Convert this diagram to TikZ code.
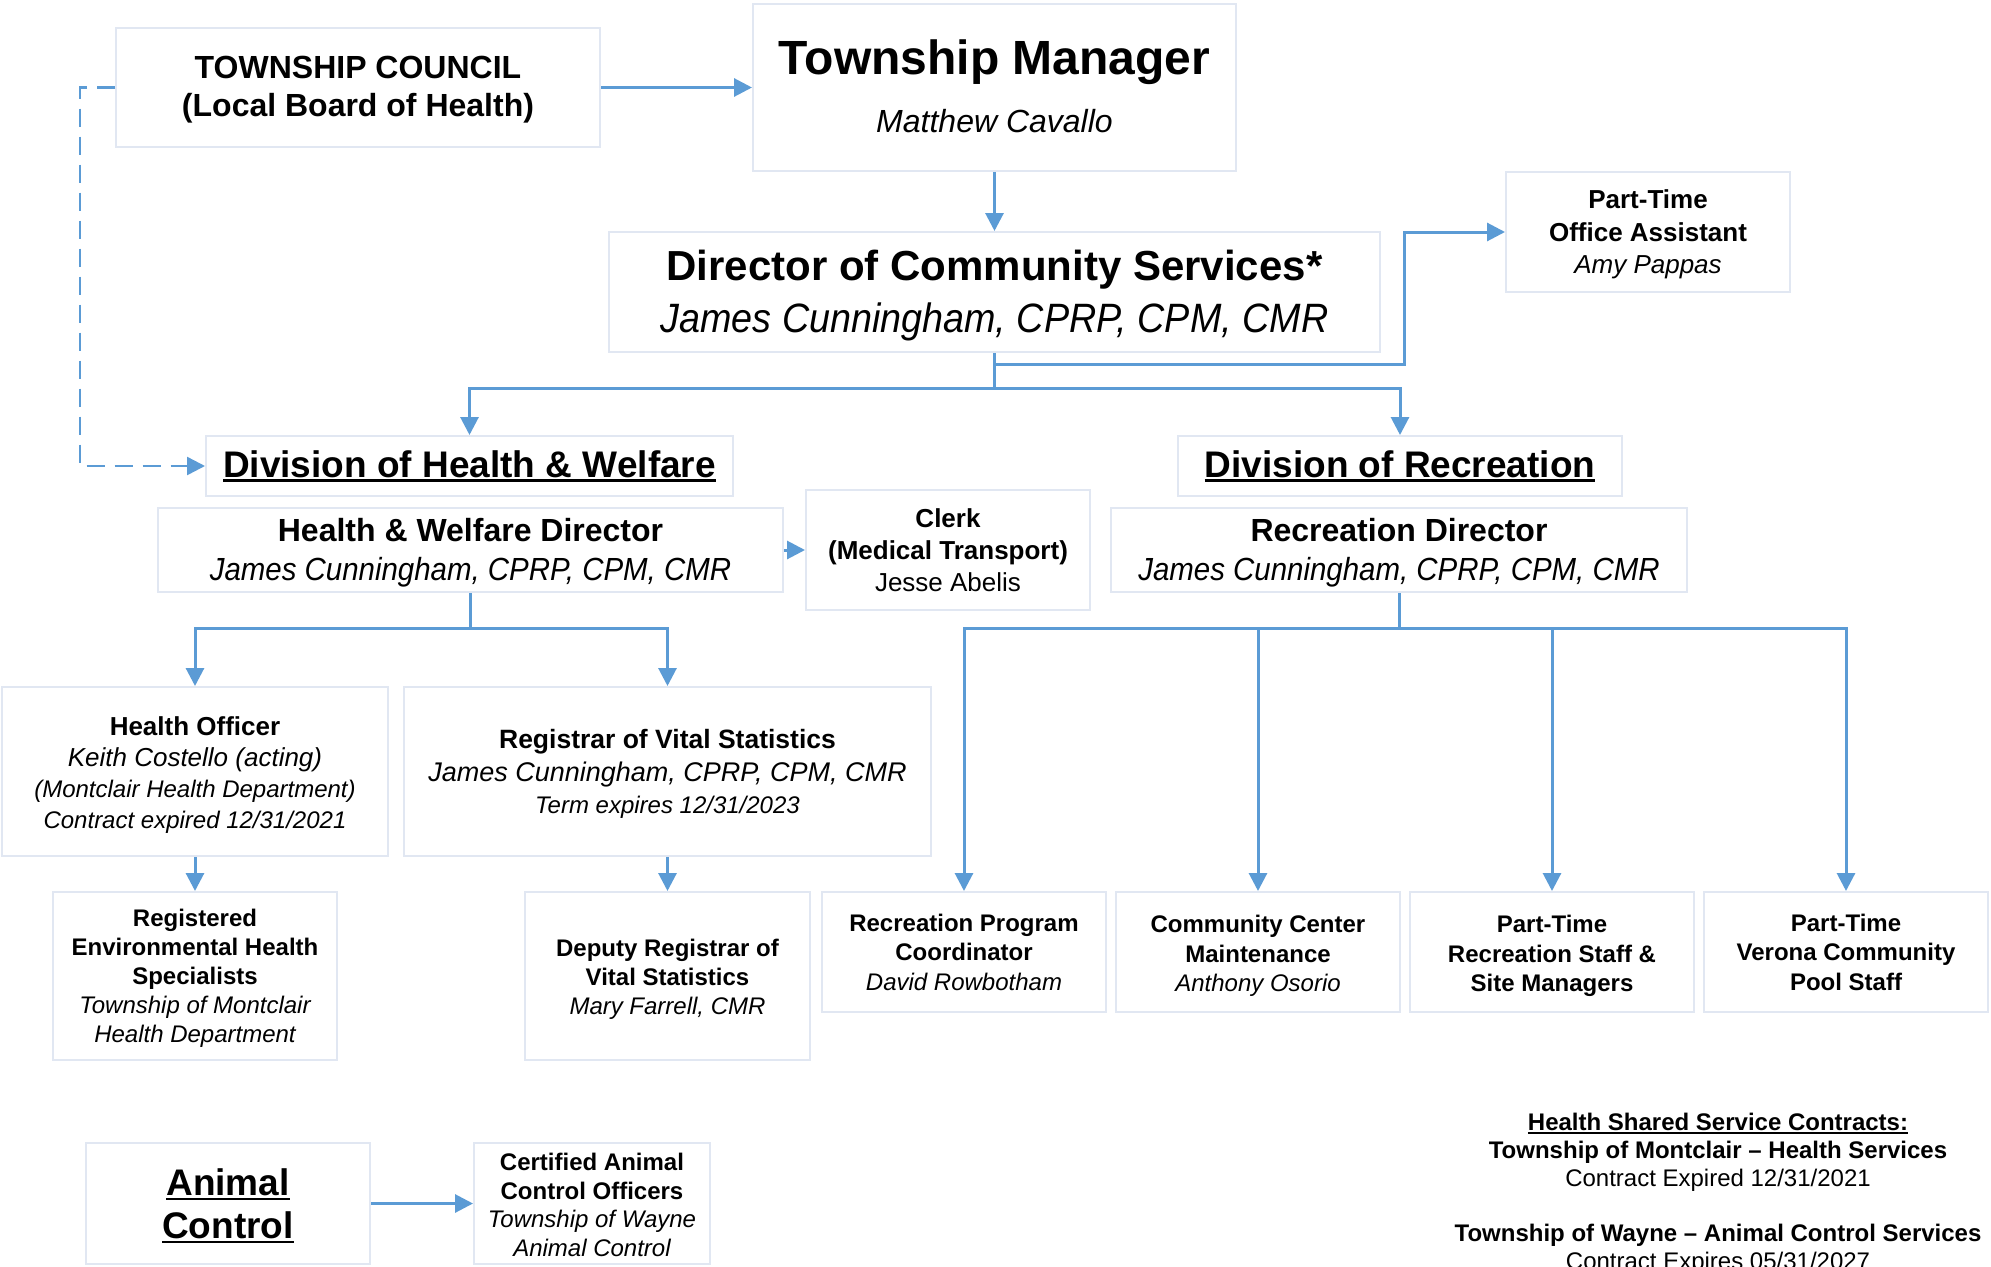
\documentclass[tikz,border=0pt]{standalone}
\usepackage{fontspec}
\setmainfont{Liberation Sans}
\newfontfamily\narrowfont{Liberation Sans}[FakeStretch=0.92]
\usetikzlibrary{arrows.meta}
\definecolor{lnc}{HTML}{5B9BD5}
\definecolor{bxc}{HTML}{E1E7F2}
\newcommand\myul[1]{\leavevmode\setbox0\hbox{#1}\rlap{\rule[-0.13em]{\wd0}{0.075em}}\box0}
\begin{document}
\begin{tikzpicture}[x=1pt,y=-1pt,
  box/.style={draw=bxc, line width=2pt, fill=white, inner sep=0pt},
  txt/.style={inner sep=0pt, align=center, text=black},
  conn/.style={draw=lnc, line width=3pt},
  arr/.style={conn, -{Triangle[length=18pt,width=18pt]}},
  dashc/.style={draw=lnc, line width=2.5pt, dash pattern=on 18pt off 10pt, -{Triangle[length=18pt,width=18pt]}}]
\fill[white] (0,0) rectangle (1991,1266);
\useasboundingbox (0,0) rectangle (1991,1266);

% boxes
\node[box, minimum width=484pt, minimum height=119pt] (tc) at (358,87.5) {};
\node[box, minimum width=483pt, minimum height=167pt] (tm) at (994.5,87.5) {};
\node[box, minimum width=771pt, minimum height=120pt] (dir) at (994.5,292) {};
\node[box, minimum width=284pt, minimum height=120pt] (pta) at (1648,232) {};
\node[box, minimum width=527pt, minimum height=60pt] (dhw) at (469.5,466) {};
\node[box, minimum width=444pt, minimum height=60pt] (drec) at (1400,466) {};
\node[box, minimum width=625pt, minimum height=84pt] (hwd) at (470.5,550) {};
\node[box, minimum width=284pt, minimum height=120pt] (clerk) at (948,550) {};
\node[box, minimum width=576pt, minimum height=84pt] (recd) at (1399,550) {};
\node[box, minimum width=386pt, minimum height=169pt] (ho) at (195,771.5) {};
\node[box, minimum width=527pt, minimum height=169pt] (reg) at (667.5,771.5) {};
\node[box, minimum width=284pt, minimum height=168pt] (renv) at (195,976) {};
\node[box, minimum width=285pt, minimum height=168pt] (dep) at (667.5,976) {};
\node[box, minimum width=284pt, minimum height=120pt] (rp) at (964,952) {};
\node[box, minimum width=284pt, minimum height=120pt] (cc) at (1258,952) {};
\node[box, minimum width=284pt, minimum height=120pt] (ptr) at (1552,952) {};
\node[box, minimum width=284pt, minimum height=120pt] (pool) at (1846,952) {};
\node[box, minimum width=284pt, minimum height=121pt] (ac) at (228,1203.5) {};
\node[box, minimum width=236pt, minimum height=121pt] (cert) at (592,1203.5) {};

% texts
\node[txt, font=\fontsize{32}{38}\selectfont\bfseries] (tc-t) at (358,90) {TOWNSHIP COUNCIL\\(Local Board of Health)};
\node[txt, font=\fontsize{32}{58}\selectfont] (tm-t) at (994.5,86.5) {{\fontsize{48}{58}\selectfont\bfseries Township Manager}\\{\itshape Matthew Cavallo}};
\node[txt, font=\fontsize{42}{52}\selectfont] (dir-t) at (994.5,296) {{\bfseries Director of Community Services*}\\{\narrowfont\fontsize{41}{52}\selectfont\itshape James Cunningham, CPRP, CPM, CMR}};
\node[txt, font=\fontsize{26}{32.5}\selectfont] (pta-t) at (1648,234.5) {{\bfseries Part-Time}\\{\bfseries Office Assistant}\\{\itshape Amy Pappas}};
\node[txt, font=\fontsize{37}{44}\selectfont\bfseries] (dhw-t) at (469.5,466) {\myul{Division of Health \& Welfare}};
\node[txt, font=\fontsize{37}{44}\selectfont\bfseries] (drec-t) at (1400,466) {\myul{Division of Recreation}};
\node[txt, font=\fontsize{32}{39}\selectfont] (hwd-t) at (470.5,552.5) {{\bfseries Health \& Welfare Director}\\{\narrowfont\itshape James Cunningham, CPRP, CPM, CMR}};
\node[txt, font=\fontsize{26}{32}\selectfont] (clerk-t) at (948,550) {{\bfseries Clerk}\\{\bfseries (Medical Transport)}\\Jesse Abelis};
\node[txt, font=\fontsize{32}{39}\selectfont] (recd-t) at (1399,552.5) {{\bfseries Recreation Director}\\{\narrowfont\itshape James Cunningham, CPRP, CPM, CMR}};
\node[txt, font=\fontsize{24}{31}\selectfont] (ho-t) at (195,775.5) {{\fontsize{26}{31}\selectfont\bfseries Health Officer}\\{\fontsize{26}{31}\selectfont\itshape Keith Costello (acting)}\\{\itshape (Montclair Health Department)}\\{\itshape Contract expired 12/31/2021}};
\node[txt, font=\fontsize{24}{32.5}\selectfont] (reg-t) at (667.5,774) {{\fontsize{26.5}{32}\selectfont\bfseries Registrar of Vital Statistics}\\{\fontsize{27}{32}\selectfont\itshape James Cunningham, CPRP, CPM, CMR}\\{\itshape Term expires 12/31/2023}};
\node[txt, font=\fontsize{24}{29}\selectfont] (renv-t) at (195,978.5) {{\bfseries Registered}\\{\bfseries Environmental Health}\\{\bfseries Specialists}\\{\itshape Township of Montclair}\\{\itshape Health Department}};
\node[txt, font=\fontsize{24}{29}\selectfont] (dep-t) at (667.5,979) {{\bfseries Deputy Registrar of}\\{\bfseries Vital Statistics}\\{\itshape Mary Farrell, CMR}};
\node[txt, font=\fontsize{24}{29.5}\selectfont] (rp-t) at (964,952) {{\bfseries Recreation Program}\\{\bfseries Coordinator}\\{\itshape David Rowbotham}};
\node[txt, font=\fontsize{24}{29.5}\selectfont] (cc-t) at (1258,956) {{\bfseries Community Center}\\{\bfseries Maintenance}\\{\itshape Anthony Osorio}};
\node[txt, font=\fontsize{24}{29.5}\selectfont\bfseries] (ptr-t) at (1552,956) {Part-Time\\Recreation Staff \&\\Site Managers};
\node[txt, font=\fontsize{24}{29.5}\selectfont\bfseries] (pool-t) at (1846,952) {Part-Time\\Verona Community\\Pool Staff};
\node[txt, font=\fontsize{37}{43}\selectfont\bfseries] (ac-t) at (228,1206) {\myul{Animal}\\\myul{Control}};
\node[txt, font=\fontsize{24}{28.5}\selectfont] (cert-t) at (592,1205) {{\bfseries Certified Animal}\\{\bfseries Control Officers}\\{\itshape Township of Wayne}\\{\itshape Animal Control}};

\node[txt, font=\fontsize{24}{28}\selectfont] (contracts) at (1718,1194) {{\bfseries\myul{Health Shared Service Contracts:}}\\{\bfseries Township of Montclair – Health Services}\\Contract Expired 12/31/2021\\[27pt]{\bfseries Township of Wayne – Animal Control Services}\\Contract Expires 05/31/2027};

% connectors
\draw[arr] (tc.east) -- (tm.west);
\draw[arr] (tm.south) -- (dir.north);
\coordinate (ja) at (1404,364);
\draw[arr] (dir.south) |- (ja) |- (pta.west);
\coordinate (jb) at (994.5,388);
\draw[conn] (dir.south) -- (jb);
\draw[arr] (jb) -| (dhw.north);
\draw[arr] (jb) -| (drec.north);
\coordinate (jd) at (80,87.5);
\draw[dashc] (tc.west) -- (jd) |- (dhw.west);
\draw[arr] (hwd.east) -- (clerk.west);
\coordinate (jc) at (470.5,628);
\draw[conn] (hwd.south) -- (jc);
\draw[arr] (jc) -| (ho.north);
\draw[arr] (jc) -| (reg.north);
\draw[arr] (ho.south) -- (renv.north);
\draw[arr] (reg.south) -- (dep.north);
\coordinate (je) at (1399,628);
\draw[conn] (recd.south) -- (je);
\draw[arr] (je) -| (rp.north);
\draw[arr] (je) -| (cc.north);
\draw[arr] (je) -| (ptr.north);
\draw[arr] (je) -| (pool.north);
\draw[arr] (ac.east) -- (cert.west);
\end{tikzpicture}
\end{document}
